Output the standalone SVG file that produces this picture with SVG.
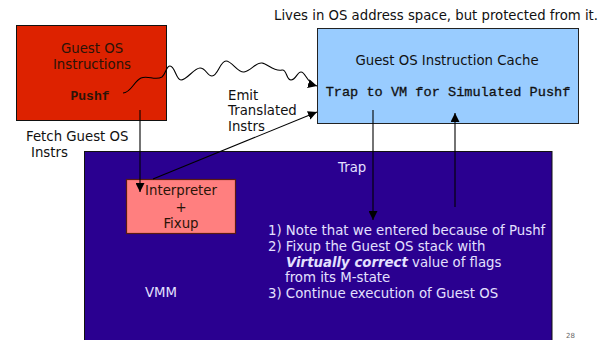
<svg xmlns="http://www.w3.org/2000/svg" width="604" height="340" viewBox="0 0 604 340">
  <defs>
    <marker id="arrow" viewBox="0 0 10 10" refX="10" refY="5" markerWidth="9" markerHeight="9" markerUnits="userSpaceOnUse" orient="auto">
      <path d="M0,0 L10,5 L0,10 z" fill="#000"/>
    </marker>
    <style>
      .sans { font-family: "DejaVu Sans", Verdana, sans-serif; font-size: 13.3px; }
      .mono { font-family: "Liberation Mono", "Courier New", monospace; }
      .dark { fill: #2a1408; }
      .light { fill: #e4e0ff; }
      .edge { fill: none; stroke: #000; stroke-width: 1.1; }
    </style>
  </defs>

  <rect width="604" height="340" fill="#ffffff"/>

  <!-- caption above the cache -->
  <text class="sans" x="274" y="20" textLength="324" lengthAdjust="spacingAndGlyphs" fill="#111">Lives in OS address space, but protected from it.</text>

  <!-- VMM region -->
  <g id="vmm">
    <rect x="84.5" y="151.5" width="467.5" height="200" fill="#2a0090" stroke="#111" stroke-width="1"/>
    <text class="sans light" x="145" y="297">VMM</text>
    <text class="sans light" x="338" y="172">Trap</text>
    <text class="sans light" x="268" y="235">1) Note that we entered because of Pushf</text>
    <text class="sans light" x="268" y="251">2) Fixup the Guest OS stack with</text>
    <text class="sans light" x="286" y="267"><tspan font-weight="bold" font-style="italic">Virtually correct</tspan> value of flags</text>
    <text class="sans light" x="285" y="282">from its M-state</text>
    <text class="sans light" x="268" y="298">3) Continue execution of Guest OS</text>
  </g>

  <!-- guest instructions -->
  <g id="guest-instructions">
    <rect x="16.5" y="25.5" width="150" height="95" fill="#dd2200" stroke="#111" stroke-width="1"/>
    <text class="sans dark" x="92" y="53" text-anchor="middle">Guest OS</text>
    <text class="sans dark" x="92" y="69" text-anchor="middle">Instructions</text>
    <text class="mono dark" x="90" y="100" font-size="13" font-weight="bold" text-anchor="middle">Pushf</text>
  </g>

  <!-- instruction cache -->
  <g id="instruction-cache">
    <rect x="317.5" y="28.5" width="261" height="95" fill="#99ccff" stroke="#222" stroke-width="1"/>
    <text class="sans" x="447" y="65" fill="#111" text-anchor="middle">Guest OS Instruction Cache</text>
    <text class="mono" x="448" y="96" font-size="13.6" fill="#111" stroke="#111" stroke-width="0.3" text-anchor="middle">Trap to VM for Simulated Pushf</text>
  </g>

  <!-- interpreter -->
  <g id="interpreter">
    <rect x="126.5" y="179.5" width="109" height="54" fill="#ff7f7f" stroke="#5a1a10" stroke-width="1.2"/>
    <text class="sans dark" x="181" y="195" text-anchor="middle">Interpreter</text>
    <text class="sans dark" x="181" y="212" text-anchor="middle">+</text>
    <text class="sans dark" x="181" y="228" text-anchor="middle">Fixup</text>
  </g>

  <!-- edge labels -->
  <g id="labels">
    <text class="sans" x="26" y="141" fill="#111">Fetch Guest OS</text>
    <text class="sans" x="31" y="157" fill="#111">Instrs</text>
    <text class="sans" x="228" y="100" fill="#111">Emit</text>
    <text class="sans" x="228" y="115" fill="#111">Translated</text>
    <text class="sans" x="228" y="131" fill="#111">Instrs</text>
  </g>

  <!-- connectors -->
  <g id="connectors">
    <path class="edge" d="M123,93 C131,93 134,81 141,78 C148,75 155,81 162,77 C166,74 166,66 170,66 C175,66 176,80 181,80 C187,80 194,68 200,68 C206,68 207,76 212,76 C218,76 220,61 226,61 C232,61 238,73 244,72 C251,71 256,62 262,63 C268,64 274,72 282,70 C287,69 286,80 291,80 C296,80 297,72 301,72 C306,72 306,83 317,86" marker-end="url(#arrow)"/>
    <path class="edge" d="M140,110 L140,192" stroke="#333" marker-end="url(#arrow)"/>
    <path class="edge" d="M153,179 L317,112" marker-end="url(#arrow)"/>
    <path class="edge" d="M373,110 L373,220" marker-end="url(#arrow)"/>
    <path class="edge" d="M455,207 L455,113" marker-end="url(#arrow)"/>
  </g>

  <text class="sans" x="566" y="338" style="font-size:7px" fill="#666">28</text>
</svg>
